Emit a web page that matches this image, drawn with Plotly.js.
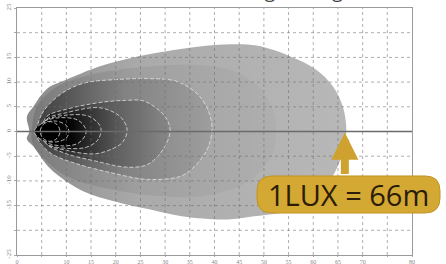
<!DOCTYPE html>
<html>
<head>
<meta charset="utf-8">
<script src="https://cdn.plot.ly/plotly-3.0.1.min.js"></script>
<style>html,body{margin:0;padding:0;background:#fff;}#chart{width:446px;height:264px;}</style>
</head>
<body>
<div id="chart"></div>
<script>
// ---- data ----
var xTickVals = [0,5,10,15,20,25,30,35,40,45,50,55,60,65,70,75,80];
var xTickText = ['0','','10','15','20','25','30','35','40','45','50','55','60','65','70','','80'];
var yTickVals = [-25,-20,-15,-10,-5,0,5,10,15,20,25];
var yTickText = ['-25','','-15','-10','-5','0','5','10','15','','25'];

// isolux contours (metres): outer = 1 lux boundary
var luxOuterX = [2.5,2,3.3,5,6.7,10,16.8,23.5,30,37,42,48.5,55.4,60.6,64,66,66.7,66.2,65,61.5,56,47,42,33.7,27,20,13.4,6.7,3.3,2];
var luxOuterY = [0,3,5,7.5,9.1,10.5,13.2,15,16.2,17.2,17.6,17.4,15.2,12.5,9.1,5,0.4,-3,-7,-12.4,-15.8,-17.3,-17.8,-17.2,-15.8,-14.2,-12.1,-7.5,-3,-1.5];
var lux2X = [3,4,8,15,25,35,43,49,52,52.5,51.5,47,38,28,18,10,5,3];
var lux2Y = [0,5,9,11.5,13,13.5,12.5,9,4,0,-5,-10,-13,-13,-11.5,-9,-5,-2];
var luxAX = [4,5,7,10,14,20,26.4,32.5,37,39,39.5,38.8,37.7,35.5,33,26.4,18.9,12,7,4.5];
var luxAY = [0,3.5,6,8.3,9.9,10.5,10.7,10.1,7.1,3.5,0.4,-3,-5,-7.5,-9.1,-9.7,-8.3,-6.5,-4.5,-2];
var luxBX = [5,6,10,17,22,25.6,28.5,30.4,31,29.6,26.4,22,16,10,6];
var luxBY = [0,3,4.5,5.9,6.3,6.2,4.5,2.4,0,-3.6,-6.7,-7.2,-6,-4.5,-2.5];
var luxCX = [5,6,10,16.8,20.9,22.3,21.5,20.3,16,10,6];
var luxCY = [0,2.5,3.8,4.8,3,0.4,-2,-3,-4.5,-3.8,-2.5];
var luxDX = [4.5,6,10,14.5,16.8,17,16.3,14,10,6];
var luxDY = [0,2.3,3.3,3.1,1.2,0,-1.8,-3.2,-3.4,-2.5];
var luxEX = [4,5.5,9,12.5,14,12.5,9,5.5];
var luxEY = [0,2,2.8,2.2,0,-2.3,-2.9,-2];
var luxFX = [3.5,5,8,10,10.5,10,8,5];
var luxFY = [0,1.6,2.1,1.2,0,-1.3,-2.1,-1.7];
var luxGX = [4.7,5.3,6.7,8.1,8.7,8.1,6.7,5.3];
var luxGY = [0,1.4,2,1.4,0,-1.4,-2,-1.4];

var range1Lux = 66;
var labelText = '1LUX = ' + range1Lux + 'm';
var titleText = 'Light Range at 10°';

// ---- traces ----
function closeArr(a){ return a.concat([a[0]]); }
function level(xs, ys, cs, start, stop, lined){
  return {
    type:'scatter', mode:'lines', x:closeArr(xs), y:closeArr(ys),
    fill:'toself',
    fillgradient:{type:'horizontal', colorscale:cs, start:start, stop:stop},
    line:{shape:'spline', smoothing:1, color: lined ? 'rgba(232,232,232,0.75)' : 'rgba(0,0,0,0)', width: lined ? 1 : 0, dash: lined ? '4px,2px' : 'solid'},
    hoverinfo:'skip', showlegend:false
  };
}
var traces = [
  level(luxOuterX, luxOuterY, [[0,'#8a8a8a'],[0.35,'#aaaaaa'],[1,'#b8b8b8']], 2, 66.7, false),
  level(lux2X, lux2Y, [[0,'#7a7a7a'],[0.45,'#a0a0a0'],[1,'#afafaf']], 3, 52.5, false),
  level(luxAX, luxAY, [[0,'#3e3e3e'],[0.5,'#828282'],[1,'#9e9e9e']], 4, 39.5, true),
  level(luxBX, luxBY, [[0,'#161616'],[0.5,'#585858'],[1,'#888888']], 5, 31, true),
  level(luxCX, luxCY, [[0,'#050505'],[0.5,'#2e2e2e'],[1,'#646464']], 5, 22.3, true),
  level(luxDX, luxDY, [[0,'#000000'],[0.5,'#111111'],[1,'#3c3c3c']], 4.5, 17, true),
  level(luxEX, luxEY, [[0,'#000000'],[0.7,'#050505'],[1,'#1e1e1e']], 4, 14, true),
  level(luxFX, luxFY, [[0,'#000000'],[1,'#080808']], 3.5, 10.5, true),
  level(luxGX, luxGY, [[0,'#000000'],[1,'#000000']], 4.7, 8.7, true)
];

// ---- grid drawn above the fills ----
var shapes = [];
xTickVals.forEach(function(v){
  if (v > 0 && v < 80) shapes.push({type:'line', layer:'above', xref:'x', yref:'paper', x0:v, x1:v, y0:0, y1:1,
    line:{color:'rgba(110,110,110,0.55)', width:1, dash:'dot'}});
});
yTickVals.forEach(function(v){
  if (v > -25 && v < 25 && v !== 0) shapes.push({type:'line', layer:'above', xref:'paper', yref:'y', x0:0, x1:1, y0:v, y1:v,
    line:{color:'rgba(110,110,110,0.55)', width:1, dash:'dot'}});
});
shapes.push({type:'line', layer:'above', xref:'paper', yref:'y', x0:0, x1:1, y0:0, y1:0, line:{color:'#6a6a6a', width:1.5}});

// rounded label box (paper coords)
var bx0=0.6076, bx1=1.0709, by0=0.170, by1=0.320, rx=0.038, ry=0.0607;
var p = 'M'+(bx0+rx)+','+by1+' L'+(bx1-rx)+','+by1+' Q'+bx1+','+by1+' '+bx1+','+(by1-ry)+
        ' L'+bx1+','+(by0+ry)+' Q'+bx1+','+by0+' '+(bx1-rx)+','+by0+
        ' L'+(bx0+rx)+','+by0+' Q'+bx0+','+by0+' '+bx0+','+(by0+ry)+
        ' L'+bx0+','+(by1-ry)+' Q'+bx0+','+by1+' '+(bx0+rx)+','+by1+' Z';
shapes.push({type:'path', layer:'above', xref:'paper', yref:'paper', path:p, fillcolor:'#d3a833', line:{color:'#c29424', width:1}});

var layout = {
  width:446, height:264,
  margin:{l:17, r:34, t:8, b:9},
  paper_bgcolor:'#ffffff', plot_bgcolor:'#ffffff',
  showlegend:false,
  xaxis:{range:[0,80], tickvals:xTickVals, ticktext:xTickText, showgrid:false, zeroline:false,
    showline:true, linecolor:'#9a9a9a', linewidth:1, mirror:true, ticks:'outside', ticklen:1, tickcolor:'#aaa',
    tickfont:{family:'Liberation Serif', size:6, color:'#888'}, fixedrange:true},
  yaxis:{range:[-25,25], tickvals:yTickVals, ticktext:yTickText, showgrid:false, zeroline:false,
    showline:true, linecolor:'#9a9a9a', linewidth:1, mirror:true, ticks:'outside', ticklen:2, tickcolor:'#aaa',
    tickangle:-90, tickfont:{family:'Liberation Serif', size:7, color:'#888'}, fixedrange:true},
  shapes:shapes,
  annotations:[
    {xref:'x', yref:'y', x:66.4, y:-0.2, text:'', showarrow:true, ax:0, ay:43,
     arrowhead:2, arrowsize:0.68, arrowwidth:8, arrowcolor:'#cfa230', standoff:0},
    {xref:'paper', yref:'paper', x:(bx0+bx1)/2, y:(by0+by1)/2, xanchor:'center', yanchor:'middle',
     text:labelText, showarrow:false, font:{family:'Open Sans', size:29, color:'#2b1d08'}},
    {xref:'paper', yref:'paper', x:0.585, y:1, xanchor:'left', yanchor:'bottom', yshift:2,
     text:titleText, showarrow:false, font:{family:'Open Sans', size:19, color:'#444'}}
  ]
};
Plotly.newPlot('chart', traces, layout, {staticPlot:true, displayModeBar:false});
</script>
</body>
</html>
